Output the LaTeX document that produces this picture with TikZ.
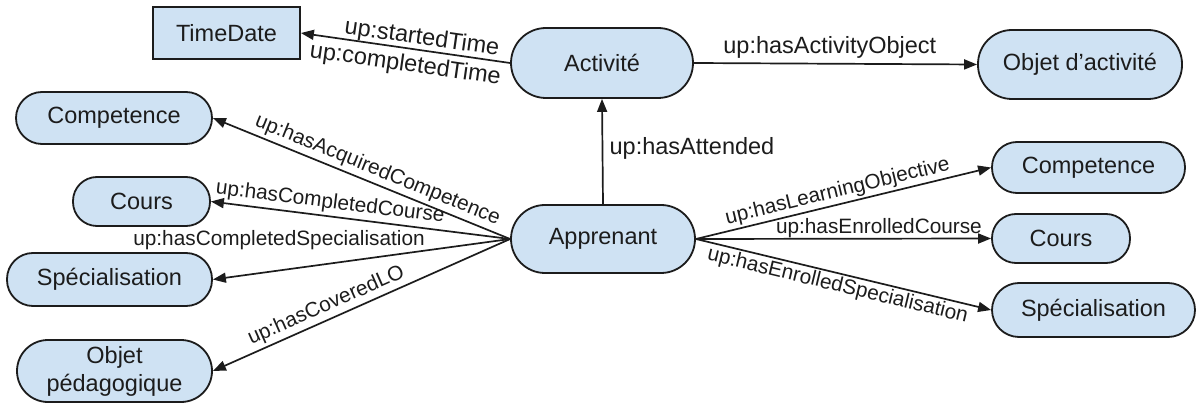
\documentclass[tikz,border=0pt]{standalone}
\usepackage{fontspec}
\setmainfont{Liberation Sans}
\usetikzlibrary{arrows.meta}
\definecolor{nodefill}{HTML}{CFE2F3}
\definecolor{ink}{HTML}{1C1C1C}
\tikzset{
  box/.style={draw=ink, line width=1.8pt, fill=nodefill, inner sep=0pt, text=ink,
    font=\fontsize{23.5}{28}\selectfont},
  arr/.style={draw=ink, line width=1.7pt, -{Triangle[length=13pt,width=10pt]}},
  lblbig/.style={font=\fontsize{23.5}{28}\selectfont, text=ink},
  lblsm/.style={font=\fontsize{20.8}{25}\selectfont, text=ink},
}
\begin{document}
\begin{tikzpicture}[x=1pt,y=-1pt]
\useasboundingbox (0,0) rectangle (1197,403);
% nodes
\node[box, minimum width=147pt, minimum height=52pt] (td) at (226.5,33) {TimeDate};
\node[box, rounded corners=35pt, minimum width=182pt, minimum height=70pt] (act) at (602,63) {Activité};
\node[box, rounded corners=34pt, minimum width=204pt, minimum height=69pt] (oda) at (1080,64.5) {Objet d’activité};
\node[box, rounded corners=26pt, minimum width=196pt, minimum height=52pt] (comp1) at (114,118) {Competence};
\node[box, rounded corners=24pt, minimum width=137pt, minimum height=49pt] (cours1) at (141.5,201.5) {Cours};
\node[box, rounded corners=26pt, minimum width=205pt, minimum height=53pt] (spec1) at (109.5,279.5) {Spécialisation};
\node[box, rounded corners=31pt, minimum width=195pt, minimum height=62pt, align=center] (objp) at (114.5,371) {Objet\\pédagogique};
\node[box, rounded corners=34pt, minimum width=184pt, minimum height=68pt] (app) at (603,239) {Apprenant};
\node[box, rounded corners=25pt, minimum width=193pt, minimum height=51pt] (comp2) at (1088.5,167.5) {Competence};
\node[box, rounded corners=24pt, minimum width=138pt, minimum height=49pt] (cours2) at (1061,238.5) {Cours};
\node[box, rounded corners=27pt, minimum width=203pt, minimum height=54pt] (spec2) at (1093.5,310) {Spécialisation};
% connectors
\draw[arr] (act.west) --
  node[lblbig, sloped, above, inner sep=0pt, pos=0.43] (lst) {up:startedTime}
  node[lblbig, sloped, below, inner sep=5pt, pos=0.49] (lct) {up:completedTime} (td.east);
\draw[arr] (act.east) --
  node[lblbig, above, inner sep=4pt, pos=0.48] (lao) {up:hasActivityObject} (oda.west);
\draw[arr] (app.north) --
  node[lblbig, anchor=west, xshift=3pt, pos=0.53] (lat) {up:hasAttended} (act.south);
\draw[arr] (app.west) --
  node[lblsm, sloped, above, inner sep=3pt, pos=0.463] (lac) {up:hasAcquiredCompetence} (comp1.east);
\draw[arr] (app.west) --
  node[lblsm, sloped, above, inner sep=3pt, pos=0.607] (lcc) {up:hasCompletedCourse} (cours1.east);
\draw[arr] (app.west) -- (spec1.east);
\node[lblsm] (lcs) at (279,240) {up:hasCompletedSpecialisation};
\draw[arr] (app.west) --
  node[lblsm, sloped, above, inner sep=3pt, pos=0.6] (lclo) {up:hasCoveredLO} (objp.east);
\draw[arr] (app.east) --
  node[lblsm, sloped, above, inner sep=2pt, pos=0.49] (llo) {up:hasLearningObjective} (comp2.west);
\draw[arr] (app.east) --
  node[lblsm, above, inner sep=0.5pt, pos=0.62] (lec) {up:hasEnrolledCourse} (cours2.west);
\draw[arr] (app.east) --
  node[lblsm, sloped, below, inner sep=2pt, pos=0.49] (les) {up:hasEnrolledSpecialisation} (spec2.west);
\end{tikzpicture}
\end{document}
